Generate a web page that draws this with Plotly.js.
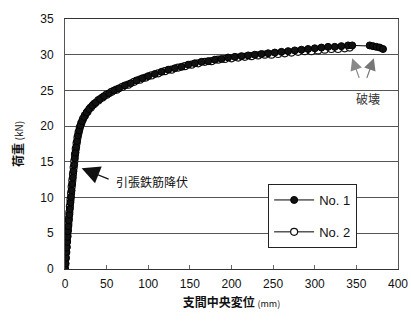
<!DOCTYPE html>
<html><head><meta charset="utf-8">
<script src="https://cdn.plot.ly/plotly-3.0.1.min.js"></script>
<style>html,body{margin:0;padding:0;background:#fff}#c{width:411px;height:325px}</style>
</head><body><div id="c"></div>
<script>
const no1X = [0,0.5,1,1.5,2,2.5,3,3.5,4,4.6,5.2,5.8,6.5,7.2,7.9,8.6,9.4,10.2,11,11.8,12.6,13.5,14.5,15.6,17,18.6,20.5,23,26,29,33,37,42,47,53,59,65,72,79,86,93,100,108,116,124,132,140,148,156,164,172,180,188,196,204,212,220,228,236,244,252,260,268,276,284,292,300,308,316,324,332,340,345,366,370,374,378,382];
const no1Y = [0,0.8,1.6,2.4,3,3.8,4.5,5.3,6,6.8,7.6,8.4,9.3,10.1,11,11.9,12.8,13.7,14.6,15.5,16.3,17.1,17.9,18.7,19.4,20.1,20.7,21.3,21.9,22.4,22.9,23.3,23.8,24.2,24.6,25.0,25.3,25.7,26.0,26.4,26.7,27.0,27.3,27.6,27.9,28.1,28.3,28.6,28.8,29.0,29.1,29.3,29.4,29.6,29.7,29.8,29.9,30.0,30.1,30.2,30.3,30.4,30.5,30.6,30.7,30.8,30.9,31.0,31.1,31.1,31.2,31.3,31.3,31.3,31.2,31.1,31.0,30.8];
const no2X = [0,0.4,0.9,1.4,1.9,2.4,2.9,3.4,4.0,4.6,5.2,5.9,6.6,7.3,8.0,8.8,9.6,10.4,11.2,12.0,12.9,13.9,15,16.3,17.8,19.5,21.6,24,27,31,35,40,45,50,56,62,69,76,83,90,97,104,112,120,128,136,144,152,160,168,176,184,192,200,208,216,224,232,240,248,256,264,272,280,288,296,304,312,320,328,336,342];
const no2Y = [0,0.7,1.5,2.3,3.1,3.9,4.7,5.5,6.3,7.1,7.9,8.8,9.7,10.6,11.5,12.4,13.3,14.2,15.1,16.0,16.8,17.6,18.4,19.1,19.8,20.4,21.0,21.5,22.0,22.6,23.1,23.6,24.0,24.4,24.8,25.1,25.5,25.8,26.2,26.5,26.8,27.1,27.4,27.7,27.9,28.2,28.4,28.6,28.8,29.0,29.1,29.3,29.4,29.5,29.6,29.7,29.8,29.9,30.0,30.0,30.1,30.2,30.3,30.4,30.5,30.5,30.6,30.7,30.8,30.8,30.9,31.0];
const seriesNames = ['No. 1','No. 2'];
const xTicks = [0,50,100,150,200,250,300,350,400];
const yTicks = [0,5,10,15,20,25,30,35];
const yieldPoint = [20, 14.1];
const failPoints = [[345, 29.5],[371, 29.5]];

const jp = '"Noto Sans CJK JP", sans-serif';
const traces = [
  {x: no2X, y: no2Y, name: seriesNames[1], legendgroup:'b', legendrank:2, mode:'lines+markers',
   line:{color:'#000', width:1}, marker:{symbol:'circle', size:7, color:'#fff', line:{color:'#111', width:1.2}}},
  {x: no1X, y: no1Y, name: seriesNames[0], legendgroup:'a', legendrank:1, mode:'lines+markers',
   line:{color:'#000', width:1}, marker:{symbol:'circle', size:7, color:'#111', line:{color:'#000', width:1}}}
];
const layout = {
  width:411, height:325,
  margin:{l:65, r:13, t:19, b:56},
  paper_bgcolor:'#fff', plot_bgcolor:'#fff',
  font:{family:'"Liberation Sans", Arial, sans-serif', size:12, color:'#111'},
  showlegend:true,
  legend:{x:0.61, y:0.34, xanchor:'left', yanchor:'top', bgcolor:'#fff', bordercolor:'#222', borderwidth:1,
    traceorder:'grouped', tracegroupgap:12, itemwidth:40,
    font:{size:13, family:'"Liberation Sans Narrow","Liberation Sans", sans-serif'}},
  xaxis:{range:[0,400], tickvals:xTicks, ticks:'inside', ticklen:4, tickcolor:'#666',
    showgrid:false, zeroline:false, showline:true, linecolor:'#333', linewidth:1, mirror:true,
    ticklabelstandoff:4,
    title:{text:'<b>支間中央変位</b> <span style="font-size:9px">(mm)</span>', font:{family:jp, size:12}, standoff:8}},
  yaxis:{range:[0,35], tickvals:yTicks, ticks:'', showgrid:true, gridcolor:'#555', gridwidth:1,
    zeroline:false, showline:true, linecolor:'#555', linewidth:1, mirror:true, ticklabelstandoff:8,
    title:{text:'<b>荷重</b> <span style="font-size:10px">(kN)</span>', font:{family:jp, size:12}, standoff:14}},
  annotations:[
    {x:yieldPoint[0], y:yieldPoint[1], xref:'x', yref:'y', text:' ', showarrow:true, arrowhead:2, arrowsize:3, arrowwidth:1.2, arrowcolor:'#111', ax:30, ay:12},
    {x:yieldPoint[0], y:yieldPoint[1], xref:'x', yref:'y', text:'引張鉄筋降伏', showarrow:false, xanchor:'left', xshift:32, yshift:-13, font:{family:jp, size:12, color:'#111'}},
    {x:failPoints[0][0], y:failPoints[0][1], xref:'x', yref:'y', text:' ', showarrow:true, arrowhead:2, arrowsize:2, arrowwidth:1.2, arrowcolor:'#888', ax:10, ay:28},
    {x:failPoints[1][0], y:failPoints[1][1], xref:'x', yref:'y', text:' ', showarrow:true, arrowhead:2, arrowsize:2, arrowwidth:1.2, arrowcolor:'#777', ax:-10, ay:28},
    {x:failPoints[0][0], y:failPoints[0][1], xref:'x', yref:'y', text:'破壊', showarrow:false, xshift:16, yshift:-40, font:{family:jp, size:12, color:'#333'}}
  ]
};
Plotly.newPlot('c', traces, layout, {displayModeBar:false, staticPlot:true});
</script></body></html>
